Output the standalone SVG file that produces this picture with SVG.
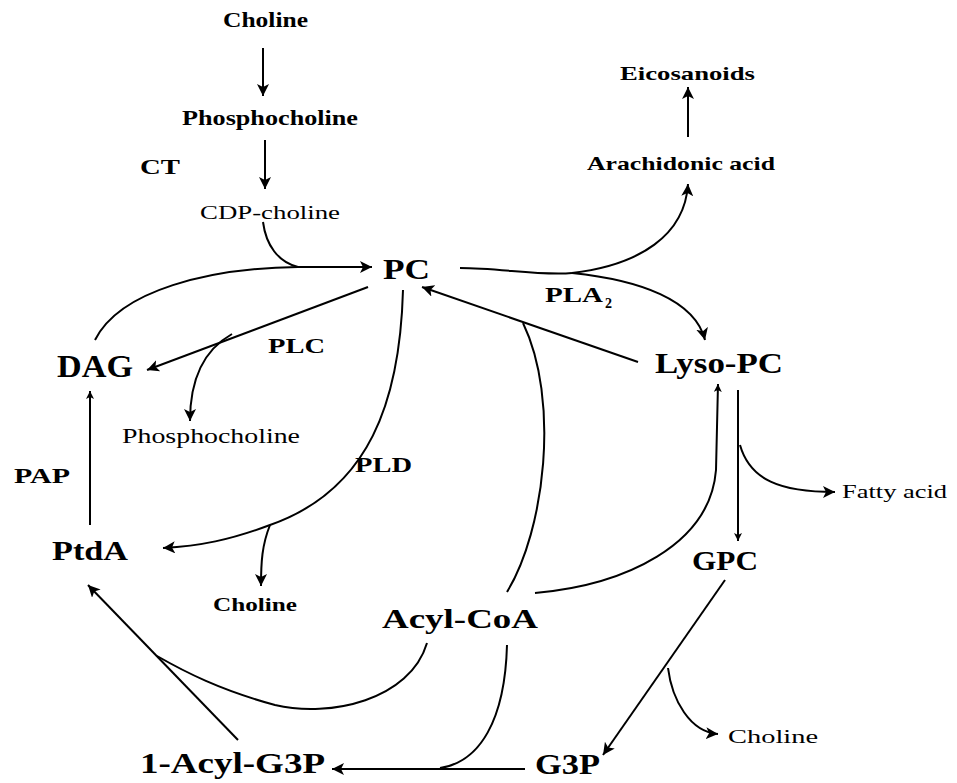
<svg xmlns="http://www.w3.org/2000/svg" width="957" height="783" viewBox="0 0 957 783">
<defs>
<marker id="ah" markerUnits="userSpaceOnUse" markerWidth="14" markerHeight="12" refX="12" refY="6" orient="auto">
<path d="M0,0 L12,6 L0,12 L3,6 Z" fill="#000"/>
</marker>
<marker id="ahs" markerUnits="userSpaceOnUse" markerWidth="10" markerHeight="8" refX="8" refY="4" orient="auto">
<path d="M0,0 L8,4 L0,8 L2,4 Z" fill="#000"/>
</marker>
<style>
text{font-family:"Liberation Serif","DejaVu Serif",serif;font-weight:bold;fill:#000}
.big{font-size:29px}
.med{font-size:21px}
.sm{font-size:19px}
.reg{font-weight:normal}
.c path,.c line{fill:none;stroke:#000;stroke-width:2}
.a{marker-end:url(#ah)}
.as{marker-end:url(#ahs)}
</style>
</defs>
<rect width="957" height="783" fill="#fff"/>
<g class="c" id="connectors">
<line class="a" x1="263" y1="48" x2="263" y2="96"/>
<line class="a" x1="265" y1="140" x2="265" y2="189"/>
<path d="M263,222 C266,245 278,262 298,267"/>
<path class="a" d="M95,340 C120,290 210,268 298,267 L372,267"/>
<line class="a" x1="368" y1="287" x2="147" y2="370"/>
<path class="a" d="M232,334 C200,352 190,385 190,421"/>
<path class="a" d="M403,290 C400,400 370,490 270,525 C230,540 200,546 163,548"/>
<path class="a" d="M270,525 C262,545 261,562 261,586"/>
<line class="as" x1="90" y1="525" x2="90" y2="391"/>
<line class="a" x1="638" y1="362" x2="422" y2="287"/>
<path d="M507,592 C545,530 560,400 523,323"/>
<path d="M460,268 C500,268 540,276 572,273"/>
<path class="a" d="M572,273 C640,265 685,235 688,184"/>
<path class="a" d="M572,273 C640,280 695,300 705,340"/>
<line class="a" x1="688" y1="137" x2="688" y2="87"/>
<path class="as" d="M535,593 C625,585 710,545 716,470 L718,384"/>
<line class="as" x1="738" y1="390" x2="738" y2="541"/>
<path class="a" d="M740,445 C750,480 780,492 835,492"/>
<line class="a" x1="725" y1="580" x2="603" y2="755"/>
<path class="a" d="M668,668 C672,700 690,732 718,734"/>
<line class="a" x1="525" y1="769" x2="332" y2="769"/>
<path d="M507,645 C505,720 480,762 440,768"/>
<line class="a" x1="238" y1="740" x2="88" y2="585"/>
<path d="M427,643 C410,700 330,718 275,705 C220,690 185,672 157,656"/>
</g>
<g id="n-choline-top"><text class="med" x="223" y="27" textLength="85" lengthAdjust="spacingAndGlyphs">Choline</text></g>
<g id="n-phosphocholine-top"><text class="med" x="182" y="125" textLength="176" lengthAdjust="spacingAndGlyphs">Phosphocholine</text></g>
<g id="l-ct"><text class="med" x="140" y="174" textLength="40" lengthAdjust="spacingAndGlyphs">CT</text></g>
<g id="n-cdp-choline"><text class="sm reg" x="200" y="219" textLength="140" lengthAdjust="spacingAndGlyphs">CDP-choline</text></g>
<g id="n-pc"><text class="big" x="383" y="279" textLength="47" lengthAdjust="spacingAndGlyphs">PC</text></g>
<g id="n-eicosanoids"><text class="sm" x="620" y="80" textLength="135" lengthAdjust="spacingAndGlyphs">Eicosanoids</text></g>
<g id="n-arachidonic"><text class="sm" x="587" y="170" textLength="188" lengthAdjust="spacingAndGlyphs">Arachidonic acid</text></g>
<g id="l-pla2"><text class="med" x="545" y="302" textLength="58" lengthAdjust="spacingAndGlyphs">PLA</text><text x="605" y="308" style="font-size:14px">2</text></g>
<g id="n-dag"><text class="big" x="57" y="377" textLength="76" lengthAdjust="spacingAndGlyphs" style="font-size:32px">DAG</text></g>
<g id="l-plc"><text class="med" x="268" y="353" textLength="57" lengthAdjust="spacingAndGlyphs">PLC</text></g>
<g id="n-lysopc"><text class="big" x="655" y="373" textLength="128" lengthAdjust="spacingAndGlyphs">Lyso-PC</text></g>
<g id="n-phosphocholine-2"><text class="sm reg" x="122" y="443" textLength="178" lengthAdjust="spacingAndGlyphs" style="font-size:20px">Phosphocholine</text></g>
<g id="l-pld"><text class="med" x="355" y="472" textLength="57" lengthAdjust="spacingAndGlyphs">PLD</text></g>
<g id="l-pap"><text class="med" x="14" y="483" textLength="56" lengthAdjust="spacingAndGlyphs">PAP</text></g>
<g id="n-fattyacid"><text class="reg" x="842" y="498" textLength="105" lengthAdjust="spacingAndGlyphs" style="font-size:18px">Fatty acid</text></g>
<g id="n-ptda"><text class="big" x="52" y="560" textLength="76" lengthAdjust="spacingAndGlyphs" style="font-size:28px">PtdA</text></g>
<g id="n-gpc"><text class="big" x="692" y="570" textLength="66" lengthAdjust="spacingAndGlyphs" style="font-size:28px">GPC</text></g>
<g id="n-choline-mid"><text class="sm" x="213" y="611" textLength="84" lengthAdjust="spacingAndGlyphs">Choline</text></g>
<g id="n-acylcoa"><text class="big" x="382" y="628" textLength="156" lengthAdjust="spacingAndGlyphs" style="font-size:28px">Acyl-CoA</text></g>
<g id="n-choline-right"><text class="reg" x="728" y="743" textLength="90" lengthAdjust="spacingAndGlyphs" style="font-size:18px">Choline</text></g>
<g id="n-1acylg3p"><text class="big" x="140" y="773" textLength="185" lengthAdjust="spacingAndGlyphs">1-Acyl-G3P</text></g>
<g id="n-g3p"><text class="big" x="535" y="774" textLength="65" lengthAdjust="spacingAndGlyphs">G3P</text></g>
</svg>
